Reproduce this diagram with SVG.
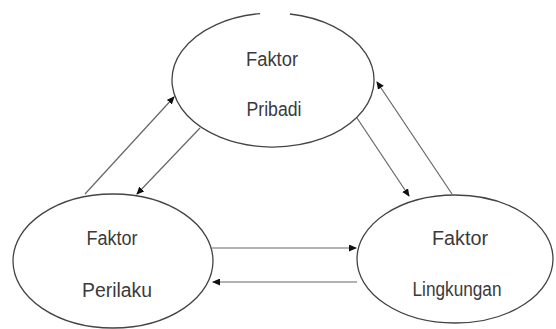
<svg xmlns="http://www.w3.org/2000/svg" width="556" height="329" viewBox="0 0 556 329">
<defs>
<marker id="ah" markerUnits="userSpaceOnUse" markerWidth="8" markerHeight="7" refX="7" refY="3.5" orient="auto">
<path d="M0,0 L8,3.5 L0,7 z" fill="#111"/>
</marker>
<style>
.node{fill:#fff;stroke:#444;stroke-width:1.3}
.lbl{font-family:"Liberation Sans",Arial,sans-serif;font-size:20px;fill:#3a3a3a;text-anchor:middle}
.edge{stroke:#666;stroke-width:1.2;fill:none;marker-end:url(#ah)}
</style>
</defs>
<rect width="556" height="329" fill="#fff"/>
<g id="pribadi">
<path class="node" d="M290 14 A101 67 0 1 1 260 13.6"/>
<text class="lbl" x="272" y="66" textLength="52" lengthAdjust="spacingAndGlyphs">Faktor</text>
<text class="lbl" x="274" y="116" textLength="55" lengthAdjust="spacingAndGlyphs">Pribadi</text>
</g>
<g id="perilaku">
<ellipse class="node" cx="113" cy="261" rx="100" ry="67"/>
<text class="lbl" x="112" y="245" textLength="51" lengthAdjust="spacingAndGlyphs">Faktor</text>
<text class="lbl" x="117" y="297" textLength="70" lengthAdjust="spacingAndGlyphs">Perilaku</text>
</g>
<g id="lingkungan">
<ellipse class="node" cx="455" cy="259" rx="98" ry="64"/>
<text class="lbl" x="460" y="245" textLength="56" lengthAdjust="spacingAndGlyphs">Faktor</text>
<text class="lbl" x="457" y="296" textLength="89" lengthAdjust="spacingAndGlyphs">Lingkungan</text>
</g>
<g id="connectors">
<line class="edge" x1="85" y1="194" x2="174" y2="97"/>
<line class="edge" x1="200" y1="128" x2="137" y2="194"/>
<line class="edge" x1="357" y1="118" x2="409" y2="196"/>
<line class="edge" x1="452" y1="194" x2="377" y2="82"/>
<line class="edge" x1="212" y1="248" x2="356" y2="248"/>
<line class="edge" x1="357" y1="282" x2="213" y2="282"/>
</g>
</svg>
